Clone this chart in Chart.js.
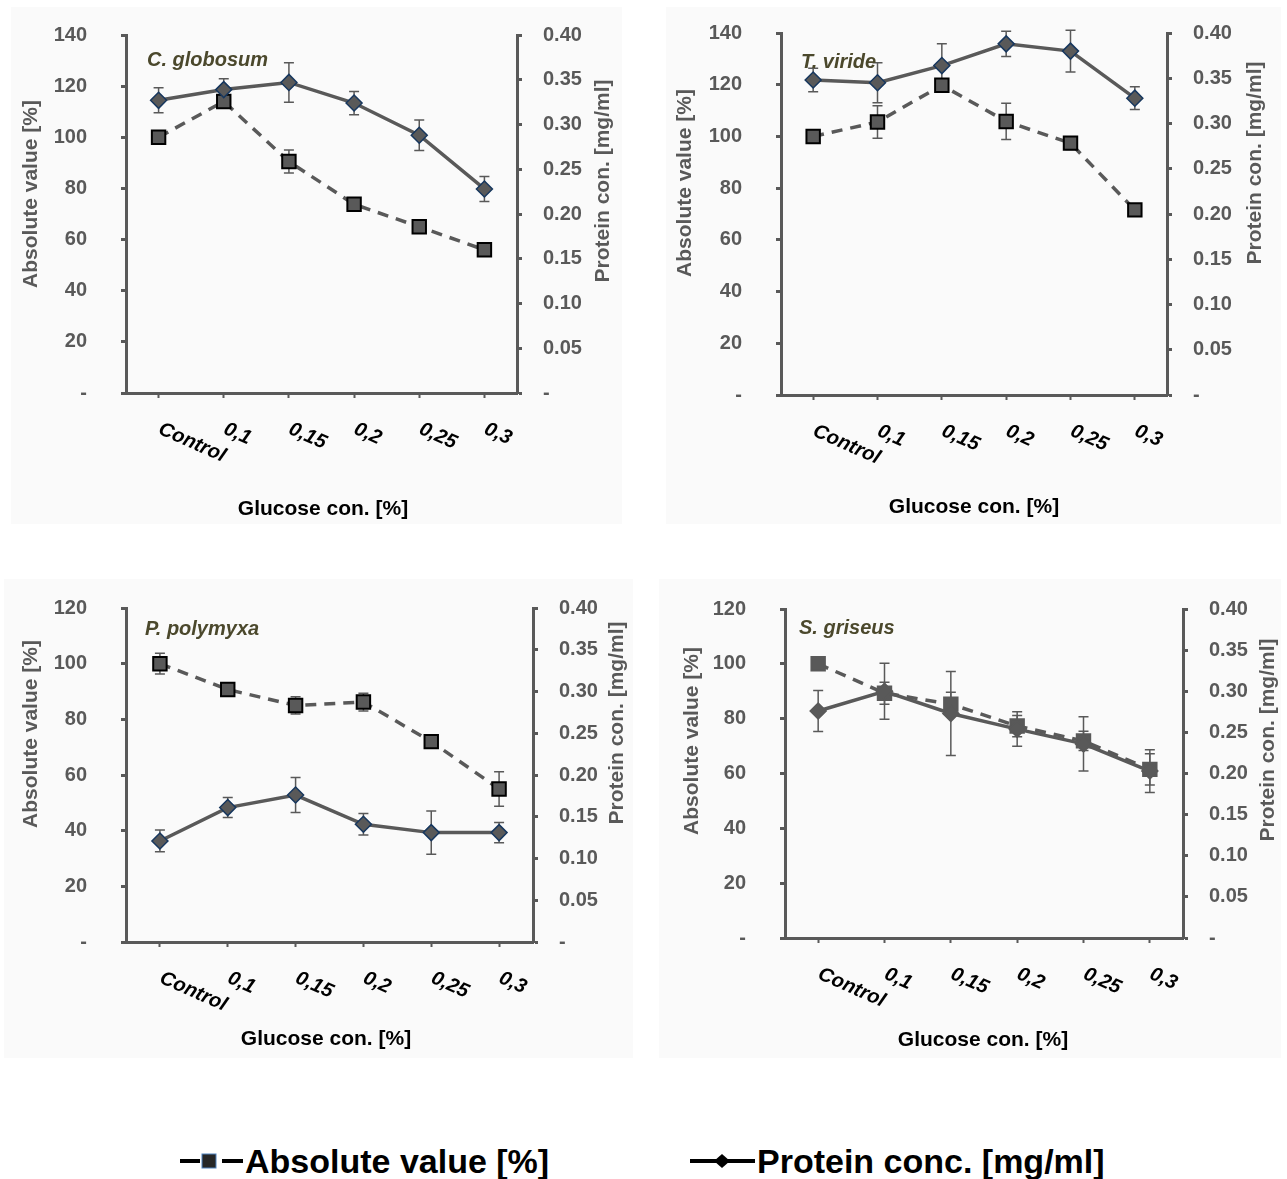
<!DOCTYPE html>
<html>
<head>
<meta charset="utf-8">
<title>Glucose concentration vs. absolute value and protein</title>
<script src="https://cdn.jsdelivr.net/npm/chart.js"></script>
<style>
  body {
    margin: 0;
    width: 1287px;
    height: 1179px;
    position: relative;
    overflow: hidden;
    background: #fff;
    font-family: "Liberation Sans", Arial, sans-serif;
  }
  .panel { position: absolute; background: #fafafa; }
  .panel canvas { display: block; }
  .legend-item {
    position: absolute;
    top: 1140px;
    height: 42px;
    display: flex;
    align-items: center;
    font-weight: bold;
    font-size: 34px;
    color: #000;
    white-space: nowrap;
  }
  .legend-item svg { display: block; }
</style>
</head>
<body>

<div class="panel" id="wrap1"><canvas id="chart1"></canvas></div>
<div class="panel" id="wrap2"><canvas id="chart2"></canvas></div>
<div class="panel" id="wrap3"><canvas id="chart3"></canvas></div>
<div class="panel" id="wrap4"><canvas id="chart4"></canvas></div>

<div class="legend-item" style="left:180px">
  <svg width="65" height="42">
    <line x1="0" y1="21" x2="20" y2="21" stroke="#000" stroke-width="4"/>
    <rect x="22" y="14" width="14" height="14" fill="#262626" stroke="#4f81bd" stroke-width="1"/>
    <line x1="42" y1="21" x2="63" y2="21" stroke="#000" stroke-width="4"/>
  </svg>
  <span>Absolute value [%]</span>
</div>
<div class="legend-item" style="left:690px">
  <svg width="67" height="42">
    <line x1="0" y1="21" x2="65" y2="21" stroke="#000" stroke-width="4"/>
    <polygon points="24,21 32,14 40,21 32,28" fill="#000"/>
  </svg>
  <span>Protein conc. [mg/ml]</span>
</div>

<script>
// x categories (glucose concentration)
const categories = ["Control", "0,1", "0,15", "0,2", "0,25", "0,3"];

// C. globosum
const globosumAbsolute = [100, 114, 90.5, 73.8, 65, 56];
const globosumAbsoluteErr = [0, 1.5, 4.5, 2, 0, 2.5];
const globosumProtein = [0.327, 0.339, 0.347, 0.324, 0.288, 0.228];
const globosumProteinErr = [0.014, 0.012, 0.022, 0.013, 0.017, 0.014];

// T. viride
const virideAbsolute = [100, 105.6, 119.8, 105.8, 97.4, 71.6];
const virideAbsoluteErr = [0, 6.3, 2.5, 7, 2.5, 1.5];
const virideProtein = [0.348, 0.345, 0.364, 0.388, 0.38, 0.328];
const virideProteinErr = [0.013, 0.022, 0.024, 0.014, 0.023, 0.0125];

// P. polymyxa
const polymyxaAbsolute = [100, 90.7, 85, 86.2, 72, 55];
const polymyxaAbsoluteErr = [3.7, 0.5, 3.1, 3.2, 0, 6.2];
const polymyxaProtein = [0.121, 0.161, 0.176, 0.141, 0.131, 0.131];
const polymyxaProteinErr = [0.013, 0.012, 0.021, 0.013, 0.026, 0.012];

// S. griseus
const griseusAbsolute = [100, 89.3, 85.3, 77.3, 71.9, 61.5];
const griseusAbsoluteErr = [0, 4, 4.3, 3.9, 3.5, 5.7];
const griseusProtein = [0.276, 0.3, 0.273, 0.254, 0.236, 0.203];
const griseusProteinErr = [0.025, 0.034, 0.051, 0.021, 0.033, 0.026];

// axis ranges
const absoluteMaxTop = 140;
const absoluteMaxBottom = 120;
const absoluteStep = 20;
const proteinMax = 0.4;
const proteinStep = 0.05;

const FONT = '"Liberation Sans", Arial, sans-serif';
const GRAY = "#595959";
const SPECIES_COLOR = "#4b482c";

Chart.defaults.font.family = FONT;
Chart.defaults.color = GRAY;

// page positions: panel box [x, y, w, h], plot area [left, top, right, bottom],
// plus centres of the hand-drawn titles
const panels = [
  {
    canvas: "chart1", wrap: "wrap1", name: "C. globosum",
    box: [11, 7, 611, 517], area: [126, 35, 517, 393],
    absolute: globosumAbsolute, absoluteErr: globosumAbsoluteErr,
    protein: globosumProtein, proteinErr: globosumProteinErr,
    absMax: absoluteMaxTop,
    leftTitle: [31, 194], rightTitle: [603, 181], xTitle: [323, 509], species: [147, 60],
    squareEdge: "#000", diamondEdge: "#17375e"
  },
  {
    canvas: "chart2", wrap: "wrap2", name: "T. viride",
    box: [666, 7, 615, 517], area: [781, 33, 1167, 395],
    absolute: virideAbsolute, absoluteErr: virideAbsoluteErr,
    protein: virideProtein, proteinErr: virideProteinErr,
    absMax: absoluteMaxTop,
    leftTitle: [685, 183], rightTitle: [1255, 163], xTitle: [974, 507], species: [801, 62],
    squareEdge: "#000", diamondEdge: "#17375e"
  },
  {
    canvas: "chart3", wrap: "wrap3", name: "P. polymyxa",
    box: [4, 579, 629, 479], area: [126, 608, 533, 942],
    absolute: polymyxaAbsolute, absoluteErr: polymyxaAbsoluteErr,
    protein: polymyxaProtein, proteinErr: polymyxaProteinErr,
    absMax: absoluteMaxBottom,
    leftTitle: [31, 734], rightTitle: [617, 723], xTitle: [326, 1039], species: [145, 629],
    squareEdge: "#000", diamondEdge: "#17375e"
  },
  {
    canvas: "chart4", wrap: "wrap4", name: "S. griseus",
    box: [659, 579, 622, 479], area: [785, 609, 1183, 938],
    absolute: griseusAbsolute, absoluteErr: griseusAbsoluteErr,
    protein: griseusProtein, proteinErr: griseusProteinErr,
    absMax: absoluteMaxBottom,
    leftTitle: [692, 741], rightTitle: [1268, 740], xTitle: [983, 1040], species: [799, 628],
    squareEdge: GRAY, diamondEdge: GRAY
  }
];

// vertical whiskers with caps, drawn under the markers
const errorBars = {
  id: "errorBars",
  beforeDatasetsDraw(chart) {
    const ctx = chart.ctx;
    const xs = chart.scales.x;
    ctx.save();
    ctx.strokeStyle = GRAY;
    ctx.lineWidth = 1.5;
    chart.data.datasets.forEach((ds) => {
      const ys = chart.scales[ds.yAxisID];
      ds.data.forEach((v, i) => {
        const e = ds.errors[i];
        if (!e) return;
        const x = xs.getPixelForValue(i);
        const y1 = ys.getPixelForValue(v + e);
        const y2 = ys.getPixelForValue(v - e);
        ctx.beginPath();
        ctx.moveTo(x, y1);
        ctx.lineTo(x, y2);
        ctx.moveTo(x - 5, y1);
        ctx.lineTo(x + 5, y1);
        ctx.moveTo(x - 5, y2);
        ctx.lineTo(x + 5, y2);
        ctx.stroke();
      });
    });
    ctx.restore();
  }
};

function rotatedText(ctx, text, x, y) {
  ctx.save();
  ctx.translate(x, y);
  ctx.rotate(-Math.PI / 2);
  ctx.fillText(text, 0, 0);
  ctx.restore();
}

// the tick padding would otherwise be added above the plot area as well
function fixWidth(width) {
  return (s) => {
    s.width = width;
    s.paddingTop = 0;
    s.paddingBottom = 0;
  };
}

function buildPanel(p) {
  const [bx, by, bw, bh] = p.box;
  const wrap = document.getElementById(p.wrap);
  wrap.style.left = bx + "px";
  wrap.style.top = by + "px";
  wrap.style.width = bw + "px";
  wrap.style.height = bh + "px";

  const canvas = document.getElementById(p.canvas);
  canvas.width = bw;
  canvas.height = bh;

  const left = p.area[0] - bx;
  const top = p.area[1] - by;
  const right = p.area[2] - bx;
  const bottom = p.area[3] - by;

  // category labels slanted downwards, axis titles and the species name
  const decorations = {
    id: "decorations",
    afterDraw(chart) {
      const ctx = chart.ctx;
      const xs = chart.scales.x;
      const area = chart.chartArea;
      ctx.save();

      ctx.fillStyle = "#000";
      ctx.font = "italic bold 20px " + FONT;
      ctx.textAlign = "left";
      ctx.textBaseline = "top";
      categories.forEach((c, i) => {
        ctx.save();
        ctx.translate(xs.getPixelForValue(i) + 5, area.bottom + 26);
        ctx.rotate((24 * Math.PI) / 180);
        ctx.fillText(c, 0, 0);
        ctx.restore();
      });

      ctx.font = "bold 21px " + FONT;
      ctx.textAlign = "center";
      ctx.textBaseline = "middle";
      ctx.fillText("Glucose con. [%]", p.xTitle[0] - bx, p.xTitle[1] - by);

      ctx.fillStyle = GRAY;
      rotatedText(ctx, "Absolute value [%]", p.leftTitle[0] - bx, p.leftTitle[1] - by);
      rotatedText(ctx, "Protein con. [mg/ml]", p.rightTitle[0] - bx, p.rightTitle[1] - by);

      ctx.fillStyle = SPECIES_COLOR;
      ctx.font = "italic bold 20px " + FONT;
      ctx.textAlign = "left";
      ctx.fillText(p.name, p.species[0] - bx, p.species[1] - by);

      ctx.restore();
    }
  };

  const tickFont = { size: 20, weight: "bold" };

  return new Chart(canvas.getContext("2d"), {
    type: "line",
    data: {
      labels: categories,
      datasets: [
        {
          label: "Protein conc. [mg/ml]",
          data: p.protein,
          errors: p.proteinErr,
          yAxisID: "yR",
          order: 1,
          borderColor: GRAY,
          borderWidth: 3.5,
          tension: 0,
          pointStyle: "rectRot",
          pointRadius: 8,
          pointBackgroundColor: GRAY,
          pointBorderColor: p.diamondEdge,
          pointBorderWidth: 1.5
        },
        {
          label: "Absolute value [%]",
          data: p.absolute,
          errors: p.absoluteErr,
          yAxisID: "yL",
          order: 2,
          borderColor: GRAY,
          borderWidth: 3.5,
          borderDash: [11, 8],
          tension: 0,
          pointStyle: "rect",
          pointRadius: 9.5,
          pointBackgroundColor: GRAY,
          pointBorderColor: p.squareEdge,
          pointBorderWidth: 2
        }
      ]
    },
    options: {
      responsive: false,
      animation: false,
      events: [],
      layout: { padding: { top: top, left: 0, right: 0, bottom: 0 } },
      plugins: {
        legend: { display: false },
        tooltip: { enabled: false }
      },
      scales: {
        x: {
          offset: true,
          ticks: { display: false },
          grid: { drawOnChartArea: false, tickLength: 5, tickWidth: 2, tickColor: GRAY },
          border: { color: GRAY, width: 3 },
          afterFit: (s) => { s.height = bh - bottom; }
        },
        yL: {
          position: "left",
          min: 0,
          max: p.absMax,
          ticks: {
            stepSize: absoluteStep,
            padding: 34,
            color: GRAY,
            font: tickFont,
            callback: (v) => (v === 0 ? "-" : v)
          },
          grid: { drawOnChartArea: false, tickLength: 5, tickWidth: 3, tickColor: GRAY },
          border: { color: GRAY, width: 3, dash: [15, 8] },
          afterFit: fixWidth(left)
        },
        yR: {
          position: "right",
          min: 0,
          max: proteinMax,
          ticks: {
            stepSize: proteinStep,
            padding: 21,
            color: GRAY,
            font: tickFont,
            callback: (v) => (v === 0 ? "-" : v.toFixed(2))
          },
          grid: { drawOnChartArea: false, tickLength: 5, tickWidth: 3, tickColor: GRAY },
          border: { color: GRAY, width: 3 },
          afterFit: fixWidth(bw - right)
        }
      }
    },
    plugins: [errorBars, decorations]
  });
}

panels.forEach(buildPanel);
</script>
</body>
</html>
